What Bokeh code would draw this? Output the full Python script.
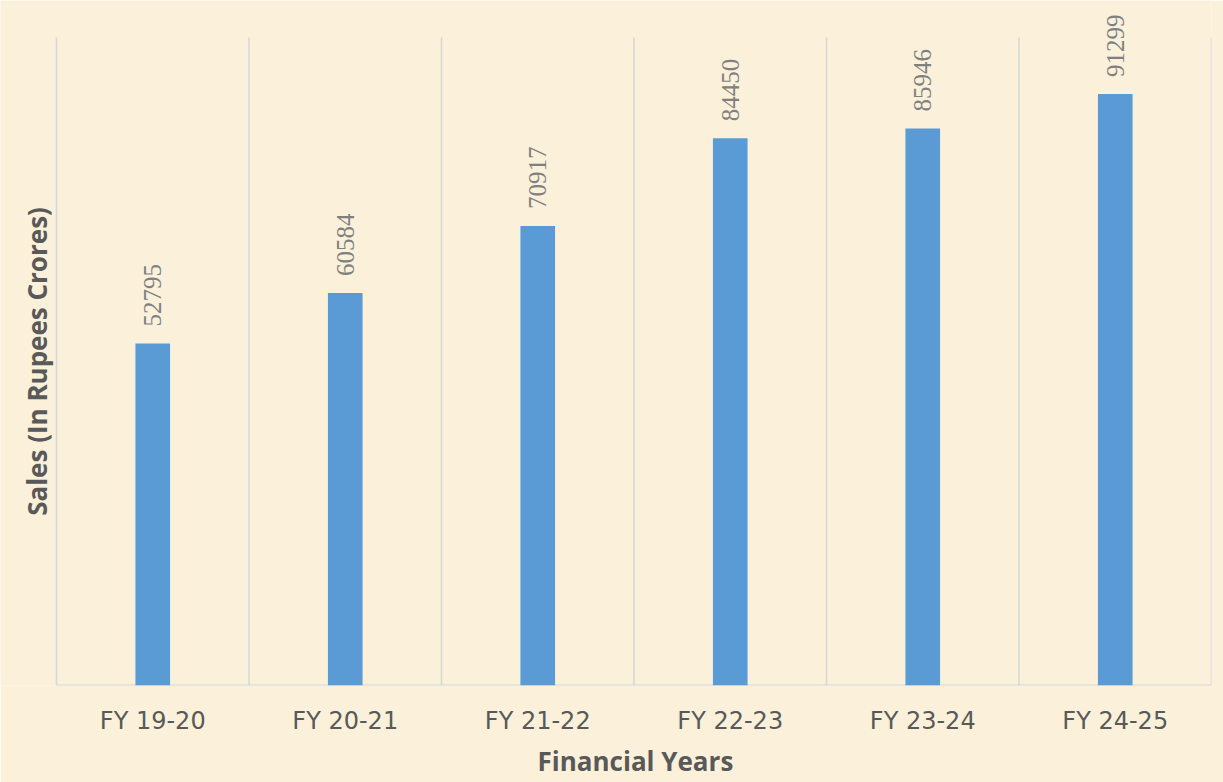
import math
from bokeh.plotting import figure
from bokeh.models import ColumnDataSource, FixedTicker, LabelSet, Range1d, Title
from bokeh.core.properties import value
from bokeh.embed import file_html
from bokeh.resources import INLINE

# Annual sales figures (Rupees crores)
years = ["FY 19-20", "FY 20-21", "FY 21-22", "FY 22-23", "FY 23-24", "FY 24-25"]
sales = [52795, 60584, 70917, 84450, 85946, 91299]

W, H = 1223, 782
LEFT, RIGHT, TOP, BOTTOM = 56, 12, 37, 97   # plotting box margins, px
AXIS_MAX = 100000                           # top of the value axis

n = len(years)
px_per_cat = (W - LEFT - RIGHT) / n
px_per_unit = (H - TOP - BOTTOM) / AXIS_MAX

# The frame covers the left and top margins too, so the rotated value
# labels and the value-axis title are not clipped.
x_start = -LEFT / px_per_cat
y_end = AXIS_MAX + TOP / px_per_unit

positions = [i + 0.5 for i in range(n)]
source = ColumnDataSource(dict(x=positions, top=sales, label=[str(v) for v in sales]))

p = figure(
    width=W, height=H,
    x_range=Range1d(x_start, n), y_range=Range1d(0, y_end),
    y_axis_location=None,
    output_backend="svg", toolbar_location=None,
    min_border_left=0, min_border_right=RIGHT, min_border_top=0, min_border_bottom=BOTTOM,
)

bg = "#fbf1da"
p.background_fill_color = bg
p.border_fill_color = bg
p.outline_line_color = None
p.grid.grid_line_color = None

grid_color = "#d6d6d6"

# vertical separators between categories, up to the top of the value axis
bounds = list(range(n + 1))
p.segment(x0=bounds, x1=bounds, y0=[0] * len(bounds), y1=[AXIS_MAX] * len(bounds),
          line_color=grid_color, line_width=1.5)
# category axis baseline
p.segment(x0=[0], x1=[n], y0=[0], y1=[0], line_color=grid_color, line_width=2)

p.vbar(x="x", top="top", width=0.18, bottom=0, source=source,
       fill_color="#5b9bd5", line_color=None)

labels = LabelSet(x="x", y="top", text="label", source=source, angle=math.pi / 2,
                  x_offset=0, y_offset=17, text_align="left", text_baseline="middle",
                  text_font="Open Sans", text_font_size="25px", text_color="#808080")
p.add_layout(labels)

# value-axis title
p.text(x=[x_start + 36 / px_per_cat], y=[AXIS_MAX / 2], text=["Sales (In Rupees Crores)"],
       angle=math.pi / 2, text_align="center", text_baseline="middle",
       text_font=value("Open Sans"), text_font_style="bold", text_font_size="26px",
       text_color="#595959")

p.xaxis.ticker = FixedTicker(ticks=positions)
p.xaxis.major_label_overrides = {pos: y for pos, y in zip(positions, years)}
p.xaxis.axis_line_color = None
p.xaxis.major_tick_line_color = None
p.xaxis.minor_tick_line_color = None
p.xaxis.major_label_standoff = 15
p.xaxis.major_label_text_font = "DejaVu Sans"
p.xaxis.major_label_text_font_size = "24px"
p.xaxis.major_label_text_color = "#595959"

# category-axis title, centred under the plotting box rather than the frame
p.add_layout(Title(text="Financial Years", align="left", offset=537, standoff=7,
                   text_font="Open Sans", text_font_style="bold", text_font_size="26px",
                   text_color="#595959"), "below")

open("out.html", "w").write(file_html(p, INLINE))
